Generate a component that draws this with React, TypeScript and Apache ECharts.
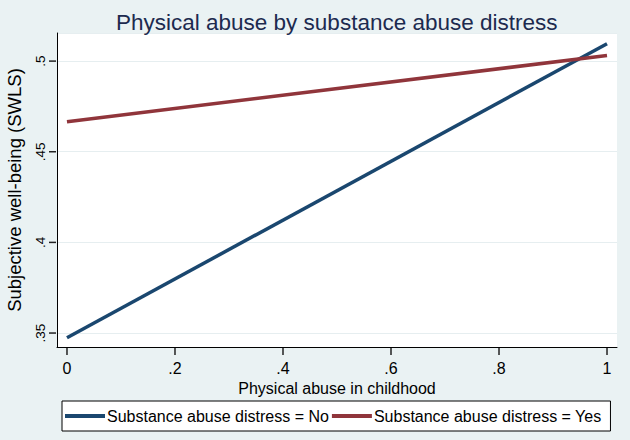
import React, { useEffect, useRef } from "react";
import * as echarts from "echarts";

const xValues = [0, 1];
const seriesNo = [0.3474, 0.5096];
const seriesYes = [0.4666, 0.5031];
const xTicks = [0, 0.2, 0.4, 0.6, 0.8, 1];
const yTicks = [0.35, 0.4, 0.45, 0.5];
const seriesNames = ["Substance abuse distress = No", "Substance abuse distress = Yes"];

const X_MIN = -0.0185;
const X_MAX = 1.0185;
const Y_MIN = 0.3423;
const Y_MAX = 0.5155;

const fmt = (v: number) => {
  const r = Math.round(v * 1000) / 1000;
  return String(r).replace(/^0\./, ".");
};

export default function App() {
  const ref = useRef<HTMLDivElement>(null);
  useEffect(() => {
    if (!ref.current) return;
    const chart = echarts.init(ref.current, null, { renderer: "svg" });
    const font = "Liberation Sans, Arial, sans-serif";
    chart.setOption({
      animation: false,
      backgroundColor: "#eaf2f3",
      textStyle: { fontFamily: font },
      title: {
        text: "Physical abuse by substance abuse distress",
        left: 111,
        top: 6,
        textStyle: { fontFamily: font, fontSize: 22.5, fontWeight: "normal", color: "#1c2a4f" },
      },
      grid: {
        left: 57,
        right: 13,
        top: 33,
        bottom: 93,
        show: true,
        backgroundColor: "#ffffff",
        borderWidth: 0,
        containLabel: false,
        outerBoundsMode: "none",
      },
      xAxis: {
        type: "value",
        min: X_MIN,
        max: X_MAX,
        splitNumber: 5,
        name: "Physical abuse in childhood",
        nameLocation: "middle",
        nameGap: 28,
        nameTextStyle: { fontSize: 16, color: "#000" },
        axisLine: { show: true, onZero: false, lineStyle: { color: "#000", width: 1 } },
        axisTick: { show: false },
        axisLabel: {
          showMinLabel: false,
          showMaxLabel: false,
          formatter: (v: number) => fmt(v),
          fontSize: 16,
          color: "#000",
          margin: 13,
        },
        splitLine: { show: false },
      },
      yAxis: {
        type: "value",
        min: Y_MIN,
        max: Y_MAX,
        splitNumber: 3,
        name: "Subjective well-being (SWLS)",
        nameLocation: "middle",
        nameGap: 33,
        nameTextStyle: { fontSize: 18.5, color: "#000" },
        axisLine: { show: true, onZero: false, lineStyle: { color: "#000", width: 1 } },
        axisTick: { show: false },
        axisLabel: {
          showMinLabel: false,
          showMaxLabel: false,
          formatter: (v: number) => fmt(v),
          fontSize: 13.5,
          color: "#000",
          rotate: 90,
          margin: 10,
        },
        splitLine: { show: true, lineStyle: { color: "#e6eef0", width: 1 } },
      },
      legend: {
        orient: "horizontal",
        bottom: 9,
        left: 62,
        backgroundColor: "#ffffff",
        borderColor: "#000",
        borderWidth: 1,
        borderRadius: 0,
        padding: [7, 9, 7, 3],
        itemGap: 3,
        itemWidth: 40,
        itemHeight: 4,
        icon: "rect",
        textStyle: { fontSize: 16, color: "#000", padding: [0, 0, 0, -3] },
        data: seriesNames,
      },
      series: [
        {
          name: seriesNames[0],
          type: "line",
          data: xValues.map((x, i) => [x, seriesNo[i]]),
          showSymbol: false,
          lineStyle: { color: "#1a476f", width: 3.5 },
          itemStyle: { color: "#1a476f" },
        },
        {
          name: seriesNames[1],
          type: "line",
          data: xValues.map((x, i) => [x, seriesYes[i]]),
          showSymbol: false,
          lineStyle: { color: "#90353b", width: 3.5 },
          itemStyle: { color: "#90353b" },
        },
        {
          name: "xTicks",
          type: "custom",
          coordinateSystem: "cartesian2d",
          silent: true,
          clip: false,
          z: 10,
          data: xTicks.map((v) => [v, Y_MIN]),
          renderItem: (params: any, api: any) => {
            const p = api.coord([api.value(0), Y_MIN]);
            return {
              type: "rect",
              shape: { x: p[0] - 0.75, y: p[1] + 1, width: 1.5, height: 7 },
              style: { fill: "#222" },
            };
          },
        },
        {
          name: "yTicks",
          type: "custom",
          coordinateSystem: "cartesian2d",
          silent: true,
          clip: false,
          z: 10,
          data: yTicks.map((v) => [X_MIN, v]),
          renderItem: (params: any, api: any) => {
            const p = api.coord([X_MIN, api.value(1)]);
            return {
              type: "rect",
              shape: { x: p[0] - 8, y: p[1] - 0.75, width: 7, height: 1.5 },
              style: { fill: "#222" },
            };
          },
        },
      ],
    });
    return () => chart.dispose();
  }, []);
  return <div ref={ref} style={{ width: 630, height: 440, position: "fixed", left: 0, top: 0 }} />;
}
